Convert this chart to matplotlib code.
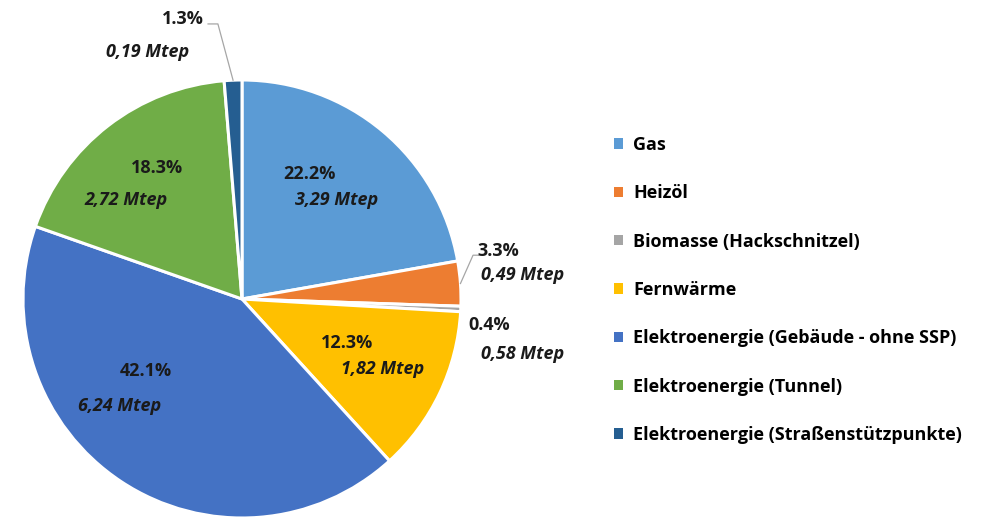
import numpy as np
import matplotlib.pyplot as plt
import matplotlib as mpl
from matplotlib.patches import Patch

mpl.rcParams['font.family'] = ['Open Sans', 'DejaVu Sans']

labels = ['Gas', 'Heizöl', 'Biomasse (Hackschnitzel)', 'Fernwärme',
          'Elektroenergie (Gebäude - ohne SSP)', 'Elektroenergie (Tunnel)',
          'Elektroenergie (Straßenstützpunkte)']
shares = [22.2, 3.3, 0.4, 12.3, 42.1, 18.3, 1.3]
mtep = ['3,29', '0,49', '0,58', '1,82', '6,24', '2,72', '0,19']
colors = ['#5B9BD5', '#ED7D31', '#A5A5A5', '#FFC000', '#4472C4', '#70AD47', '#255E91']

# label anchors (percent, Mtep) in pie data coords
pct_pos = [(0.31, 0.57), (1.17, 0.22), (1.13, -0.12), (0.48, -0.20),
           (-0.44, -0.33), (-0.39, 0.60), (-0.27, 1.28)]
mt_pos = [(0.43, 0.45), (1.28, 0.11), (1.28, -0.25), (0.64, -0.32),
          (-0.56, -0.49), (-0.53, 0.45), (-0.43, 1.13)]

fig = plt.figure(figsize=(9.98, 5.18), dpi=100)
ax = fig.add_axes([23/998, (518 - 299 - 219)/518, 438/998, 438/518])
wedges, _ = ax.pie(shares, colors=colors, startangle=90, counterclock=False,
                   wedgeprops=dict(edgecolor='white', linewidth=2.2))
ax.set_xlim(-1, 1)
ax.set_ylim(-1, 1)
ax.set_aspect('equal')
ax.axis('off')

for i in range(len(shares)):
    ax.text(*pct_pos[i], f'{shares[i]}%', ha='center', va='center',
            fontsize=13, fontweight='bold', color='#1a1a1a')
    ax.text(*mt_pos[i], f'{mtep[i]} Mtep', ha='center', va='center',
            fontsize=13, fontweight='bold', style='italic', color='#1a1a1a')

# leader lines for the small outer labels
for i in [1, 6]:
    w = wedges[i]
    a = np.deg2rad((w.theta1 + w.theta2) / 2)
    x0, y0 = np.cos(a), np.sin(a)
    if i == 1:
        xs = [x0, 1.055, 1.08]
        ys = [y0, 0.20, 0.20]
    else:
        xs = [x0, -0.11, -0.155]
        ys = [y0, 1.256, 1.256]
    ax.plot(xs, ys, color='#A6A6A6', lw=0.9, clip_on=False)

handles = [Patch(facecolor=c, edgecolor='none') for c in colors]
fig.legend(handles, labels, loc='upper left', bbox_to_anchor=(614/998, 1 - 136/518),
           frameon=False, prop=dict(weight='bold', size=13),
           handlelength=0.5, handleheight=0.5, handletextpad=0.55,
           labelspacing=1.68, borderpad=0, borderaxespad=0)

plt.savefig('out.png', dpi=100)
